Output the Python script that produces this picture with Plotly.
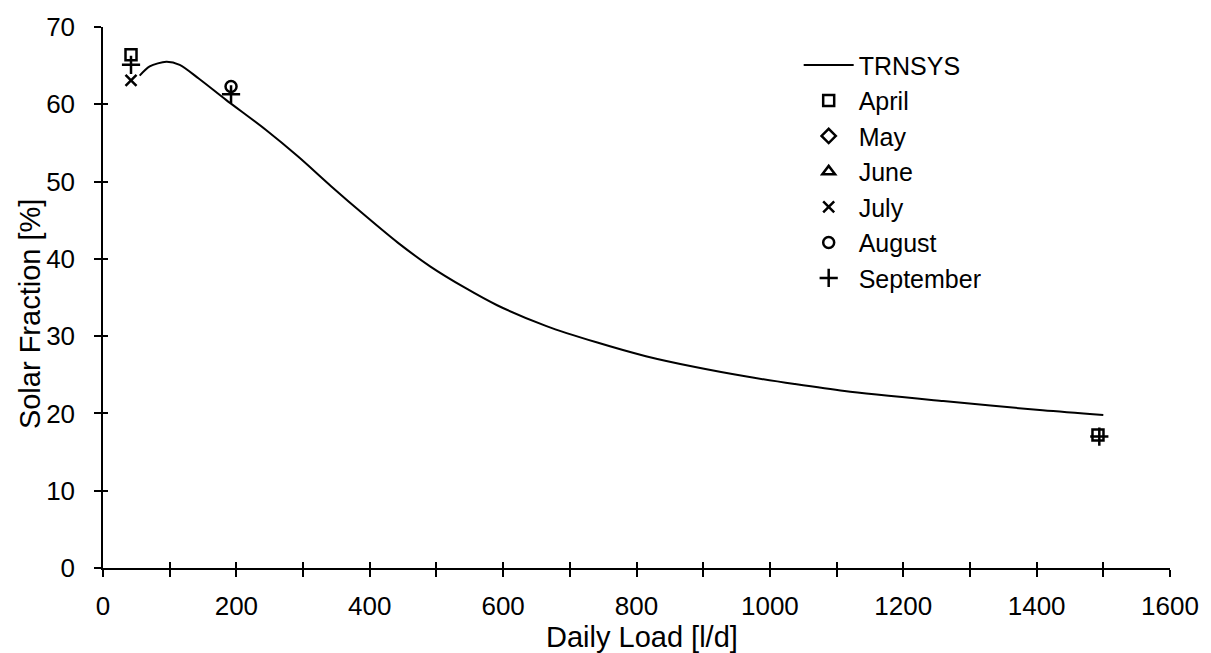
import plotly.graph_objects as go

# TRNSYS simulation curve
load = [55, 70, 95, 115, 144, 184, 244, 293, 342, 393, 442, 491, 542, 591, 665,
        740, 814, 888, 963, 1037, 1112, 1260, 1409, 1500]
solar_fraction = [63.7, 64.9, 65.5, 65.1, 63.3, 60.6, 56.7, 53.2, 49.4, 45.6, 42.1,
                  39.0, 36.3, 34.0, 31.3, 29.2, 27.4, 26.0, 24.8, 23.8, 22.9, 21.6,
                  20.4, 19.8]

# Measured monthly values
april_x = [42, 1492]
april_y = [66.4, 17.2]
may_x = [None]
may_y = [None]
june_x = [None]
june_y = [None]
july_x = [42]
july_y = [63.1]
august_x = [192]
august_y = [62.3]
september_x = [42, 192, 1494]
september_y = [65.1, 61.3, 17.0]

x_ticks = [0, 200, 400, 600, 800, 1000, 1200, 1400, 1600]
x_minor_ticks = list(range(0, 1700, 100))
y_ticks = [0, 10, 20, 30, 40, 50, 60, 70]

FONT = "Liberation Sans, Arial, sans-serif"

fig = go.Figure()
fig.add_trace(go.Scatter(x=load, y=solar_fraction, mode="lines", name="TRNSYS",
                         line=dict(color="black", width=2, shape="spline", smoothing=0.8)))

marker_specs = [
    ("April", april_x, april_y, "square-open", 11),
    ("May", may_x, may_y, "diamond-open", 11),
    ("June", june_x, june_y, "triangle-up-open", 11),
    ("July", july_x, july_y, "x-thin-open", 11),
    ("August", august_x, august_y, "circle-open", 11),
    ("September", september_x, september_y, "cross-thin-open", 13),
]
for name, xs, ys, sym, sz in marker_specs:
    fig.add_trace(go.Scatter(x=xs, y=ys, mode="markers", name=name,
                             marker=dict(symbol=sym, size=sz, color="black",
                                         line=dict(color="black", width=2.5))))

# helper trace so the overlaid (inner-tick) axes get drawn
fig.add_trace(go.Scatter(x=[None], y=[None], xaxis="x2", yaxis="y2",
                         showlegend=False, hoverinfo="skip"))

fig.update_layout(
    width=1211, height=653,
    margin=dict(l=103, r=38, t=27, b=85),
    paper_bgcolor="white", plot_bgcolor="white",
    font=dict(family=FONT, color="black", size=26),
    showlegend=True,
    legend=dict(x=0.652, y=0.972, xanchor="left", yanchor="top",
                font=dict(size=25, family=FONT, color="black"),
                bgcolor="rgba(0,0,0,0)", tracegroupgap=0, itemwidth=50),
    xaxis=dict(range=[0, 1600], tickvals=x_ticks, ticks="outside", ticklen=7,
               tickwidth=1.5, tickcolor="black", showline=True, linecolor="black",
               linewidth=1.5, showgrid=False, zeroline=False,
               minor=dict(tickvals=x_minor_ticks, ticks="outside", ticklen=7,
                          tickwidth=1.5, tickcolor="black"),
               tickfont=dict(size=26), ticklabelstandoff=7),
    yaxis=dict(range=[0, 70], tickvals=y_ticks, ticks="outside", ticklen=7,
               tickwidth=1.5, tickcolor="black", showline=True, linecolor="black",
               linewidth=1.5, showgrid=False, zeroline=False,
               tickfont=dict(size=26), ticklabelstandoff=14),
    xaxis2=dict(overlaying="x", range=[0, 1600], side="bottom", anchor="y2",
                tickvals=x_minor_ticks, ticks="inside", ticklen=6,
                tickwidth=1.5, tickcolor="black", showticklabels=False,
                showgrid=False, zeroline=False, showline=False),
    yaxis2=dict(overlaying="y", range=[0, 70], side="left", anchor="x2",
                tickvals=y_ticks, ticks="inside", ticklen=5, tickwidth=1.5,
                tickcolor="black", showticklabels=False, showgrid=False,
                zeroline=False, showline=False),
    annotations=[
        dict(text="Daily Load [l/d]", xref="paper", yref="paper", x=0.505, y=-0.128,
             xanchor="center", yanchor="middle", showarrow=False,
             font=dict(size=29, family=FONT, color="black")),
        dict(text="Solar Fraction [%]", xref="paper", yref="paper", x=-0.069, y=0.47,
             xanchor="center", yanchor="middle", showarrow=False, textangle=-90,
             font=dict(size=29, family=FONT, color="black")),
    ],
)

fig.write_html("out.html")
